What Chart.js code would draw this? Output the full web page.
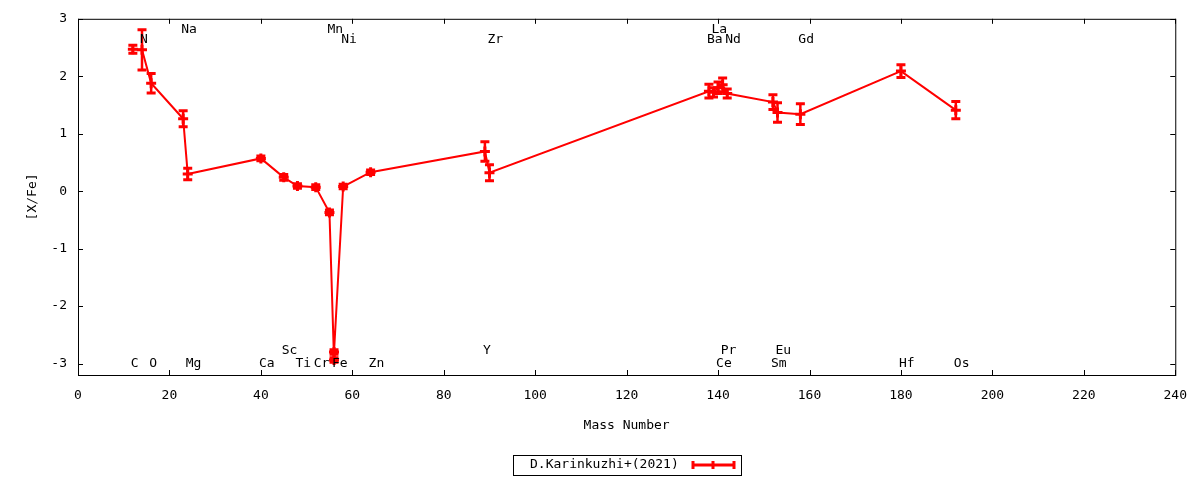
<!DOCTYPE html>
<html>
<head>
<meta charset="utf-8">
<script src="https://cdn.jsdelivr.net/npm/chart.js@4"></script>
<style>
  body { margin: 0; background: #fff; }
  #wrap { width: 1200px; height: 480px; }
</style>
</head>
<body>
<div id="wrap"><canvas id="myChart" width="1200" height="480"></canvas></div>
<script>
const massNumber = [12, 14, 16, 23, 24, 40, 45, 48, 52, 55, 56, 56, 58, 64, 89, 90, 138, 139, 140, 141, 142, 152, 153, 158, 180, 192]
const xFe = [2.47, 2.46, 1.88, 1.26, 0.30, 0.57, 0.24, 0.09, 0.07, -0.37, -2.94, -2.80, 0.08, 0.33, 0.69, 0.32, 1.74, 1.72, 1.80, 1.85, 1.70, 1.55, 1.37, 1.34, 2.09, 1.41]
const xFeErr = [0.07, 0.35, 0.17, 0.14, 0.10, 0.04, 0.05, 0.04, 0.04, 0.04, 0.04, 0.04, 0.04, 0.04, 0.17, 0.14, 0.12, 0.08, 0.10, 0.12, 0.08, 0.13, 0.17, 0.18, 0.11, 0.15]

const elemNames = ['C', 'N', 'O', 'Na', 'Mg', 'Ca', 'Sc', 'Ti', 'Cr', 'Mn', 'Fe', 'Ni', 'Zn', 'Y', 'Zr', 'Ba', 'La', 'Ce', 'Pr', 'Nd', 'Sm', 'Eu', 'Gd', 'Hf', 'Os']
const elemMass = [12, 14, 16, 23, 24, 40, 45, 48, 52, 55, 56, 58, 64, 89, 90, 138, 139, 140, 141, 142, 152, 153, 158, 180, 192]
const elemRow = ['b1', 't2', 'b1', 't1', 'b1', 'b1', 'b2', 'b1', 'b1', 't1', 'b1', 't2', 'b1', 'b2', 't2', 't2', 't1', 'b1', 'b2', 't2', 'b1', 'b2', 't2', 'b1', 'b1']

const xTicks = [0, 20, 40, 60, 80, 100, 120, 140, 160, 180, 200, 220, 240]
const yTicks = [-3, -2, -1, 0, 1, 2, 3]

const seriesName = 'D.Karinkuzhi+(2021)'
const red = '#ff0000'
const rowValue = {t1: 2.81, t2: 2.63, b2: -2.77, b1: -3.01}

Chart.defaults.font.family = "'DejaVu Sans Mono', monospace"
Chart.defaults.font.size = 13
Chart.defaults.color = '#000'

const points = massNumber.map((m, i) => ({x: m, y: xFe[i]}))

const frameAndTicks = {
    id: 'frameAndTicks',
    afterDraw(chart) {
        const ctx = chart.ctx
        const a = chart.chartArea
        const xs = chart.scales.x
        const ys = chart.scales.y
        ctx.save()
        ctx.strokeStyle = '#000'
        ctx.lineWidth = 1
        ctx.strokeRect(a.left + 0.5, a.top + 0.5, a.right - a.left, a.bottom - a.top)
        ctx.beginPath()
        xTicks.forEach(v => {
            let px = Math.round(xs.getPixelForValue(v)) + 0.5
            ctx.moveTo(px, a.bottom); ctx.lineTo(px, a.bottom - 5)
            ctx.moveTo(px, a.top); ctx.lineTo(px, a.top + 5)
        })
        yTicks.forEach(v => {
            let py = Math.round(ys.getPixelForValue(v)) + 0.5
            ctx.moveTo(a.left, py); ctx.lineTo(a.left + 5, py)
            ctx.moveTo(a.right, py); ctx.lineTo(a.right - 5, py)
        })
        ctx.stroke()

        // element labels
        ctx.fillStyle = '#000'
        ctx.textAlign = 'left'
        ctx.textBaseline = 'middle'
        ctx.font = "13px 'DejaVu Sans Mono'"
        elemNames.forEach((name, i) => {
            let px = xs.getPixelForValue(elemMass[i]) - 2
            let py = ys.getPixelForValue(rowValue[elemRow[i]])
            ctx.fillText(name, px, py)
        })

        // key
        ctx.strokeRect(513.5, 455.5, 228, 20)
        ctx.fillText(seriesName, 530, 465)
        ctx.strokeStyle = red
        ctx.lineWidth = 3
        ctx.beginPath()
        ctx.moveTo(692, 465); ctx.lineTo(735, 465)
        ctx.moveTo(693, 461); ctx.lineTo(693, 469)
        ctx.moveTo(734, 461); ctx.lineTo(734, 469)
        ctx.moveTo(709, 465); ctx.lineTo(717, 465)
        ctx.moveTo(713, 461); ctx.lineTo(713, 469)
        ctx.stroke()
        ctx.restore()
    }
}

const errorBars = {
    id: 'errorBars',
    afterDatasetsDraw(chart) {
        const ctx = chart.ctx
        const xs = chart.scales.x
        const ys = chart.scales.y
        ctx.save()
        ctx.strokeStyle = red
        ctx.lineWidth = 2.5
        ctx.beginPath()
        massNumber.forEach((m, i) => {
            let px = xs.getPixelForValue(m)
            let top = ys.getPixelForValue(xFe[i] + xFeErr[i])
            let bot = ys.getPixelForValue(xFe[i] - xFeErr[i])
            ctx.moveTo(px, top); ctx.lineTo(px, bot)
        })
        ctx.stroke()
        ctx.lineWidth = 3
        ctx.beginPath()
        massNumber.forEach((m, i) => {
            let px = xs.getPixelForValue(m)
            let top = ys.getPixelForValue(xFe[i] + xFeErr[i])
            let bot = ys.getPixelForValue(xFe[i] - xFeErr[i])
            ctx.moveTo(px - 4.5, top); ctx.lineTo(px + 4.5, top)
            ctx.moveTo(px - 4.5, bot); ctx.lineTo(px + 4.5, bot)
        })
        ctx.stroke()
        ctx.restore()
    }
}

var ctx = document.getElementById('myChart').getContext('2d')
var myChart = new Chart(ctx, {
    type: 'line',
    data: {
        datasets: [{
            label: seriesName,
            data: points,
            borderColor: red,
            backgroundColor: red,
            borderWidth: 2,
            pointStyle: 'cross',
            pointRadius: 5,
            pointBorderWidth: 3,
            tension: 0
        }]
    },
    options: {
        responsive: false,
        animation: false,
        events: [],
        layout: {padding: {top: 17, right: 23, left: 0, bottom: 0}},
        plugins: {
            legend: {display: false},
            tooltip: {enabled: false}
        },
        scales: {
            x: {
                type: 'linear',
                min: 0,
                max: 240,
                afterBuildTicks: s => { s.ticks = xTicks.map(v => ({value: v})) },
                afterFit: s => { s.height = 105 },
                ticks: {padding: 13, maxRotation: 0, autoSkip: false},
                grid: {display: false, drawTicks: false},
                border: {display: false},
                title: {display: true, text: 'Mass Number', padding: {top: 0, bottom: 47}}
            },
            y: {
                type: 'linear',
                min: -3.2,
                max: 3,
                afterBuildTicks: s => { s.ticks = yTicks.map(v => ({value: v})) },
                afterFit: s => { s.width = 78 },
                ticks: {padding: 11},
                grid: {display: false, drawTicks: false},
                border: {display: false},
                title: {display: true, text: '[X/Fe]', padding: {top: 25, bottom: 0}}
            }
        }
    },
    plugins: [errorBars, frameAndTicks]
})
</script>
</body>
</html>
